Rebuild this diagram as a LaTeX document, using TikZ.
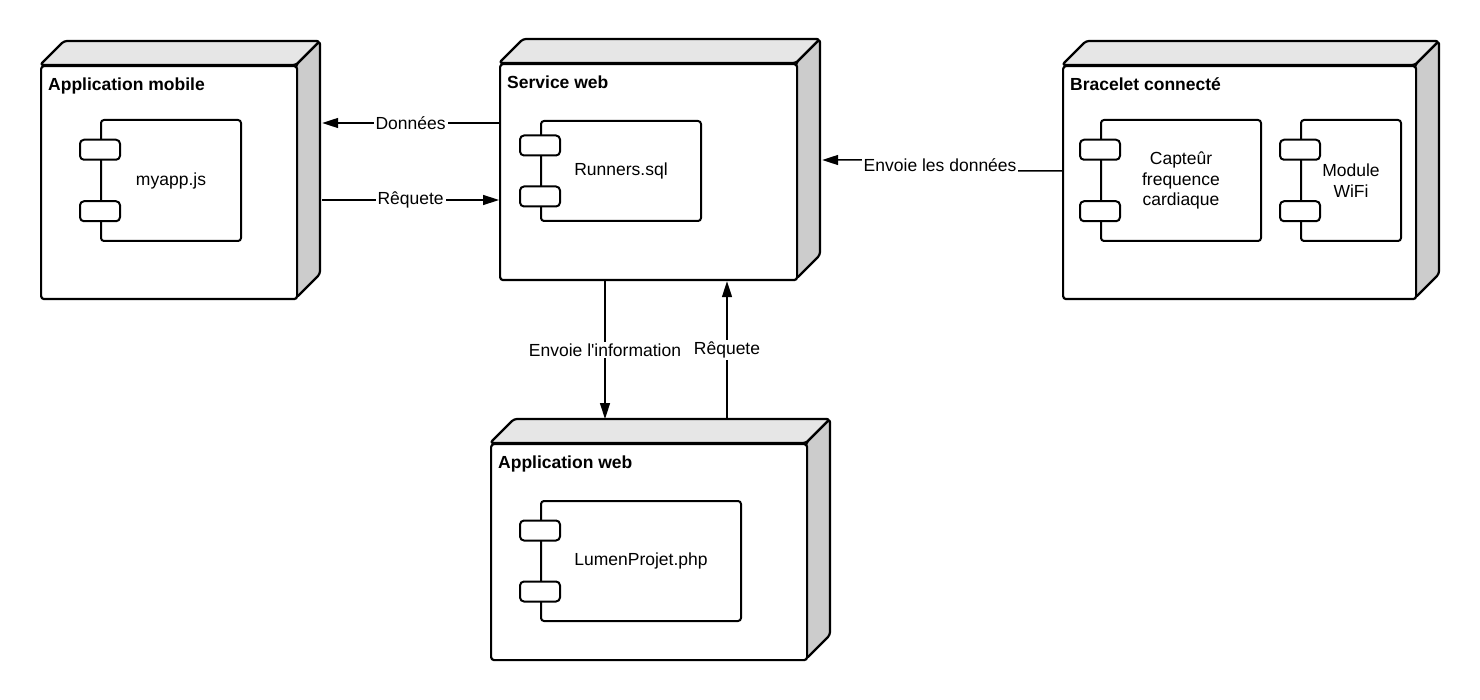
\documentclass[tikz,border=0pt]{standalone}
\usepackage{fontspec}
\newfontfamily\diagfont{Liberation Sans}
\usetikzlibrary{arrows.meta,calc}
\definecolor{topgray}{HTML}{E6E6E6}
\definecolor{sidegray}{HTML}{CCCCCC}

% name, x, y, width, height, title
\newcommand{\devicenode}[6]{%
  \draw[face, fill=topgray] (#2,#3) -- ++(24,-24) -- ++(#4,0) -- ++(-24,24) -- cycle;
  \draw[face, fill=sidegray] (#2+#4,#3) -- ++(24,-24) -- ++(0,#5) -- ++(-24,24) -- cycle;
  \node[front, minimum width=#4, minimum height=#5] (#1) at (#2,#3) {};
  \coordinate (#1 side) at ([xshift=24]#1.east);
  \coordinate (#1 top) at ([yshift=24]#1.north);
  \node[devtitle] (#1 title) at ([shift={(8,25.5)}]#1.north west) {#6};
}
% name, x, y, width, height, text
\newcommand{\compnode}[6]{%
  \node[compbox, minimum width=#4, minimum height=#5] (#1) at (#2,#3) {};
  \foreach \f/\k in {0.25/a,0.75/b}
    \node[porttab] (#1 \k) at ($(#1.north west)!\f!(#1.south west)$) {};
  \node[comptext] (#1 text) at (#1.center) {#6};
}

\begin{document}
\diagfont\fontsize{17.5}{20.5}\selectfont
\begin{tikzpicture}[x=1pt, y=-1pt,
  face/.style={draw, line width=2.2pt, rounded corners=3pt, line join=round},
  front/.style={face, fill=white, anchor=north west, inner sep=0pt},
  compbox/.style={draw, line width=2pt, rounded corners=3pt, fill=white, anchor=north west, inner sep=0pt},
  porttab/.style={draw, line width=2pt, rounded corners=4pt, fill=white, minimum width=40, minimum height=20, inner sep=0pt},
  devtitle/.style={anchor=base west, inner sep=0pt, font=\bfseries},
  comptext/.style={align=center, inner sep=0pt},
  flow/.style={line width=1.5pt, -{Triangle[length=16pt,width=10pt]}},
  edgelabel/.style={fill=white, inner xsep=2pt, inner ysep=1.5pt}]
  \useasboundingbox (0,0) rectangle (1480,700);
  \fill[white] (0,0) rectangle (1480,700);

  \devicenode{mob}{40}{65}{256}{233}{Application mobile}
  \devicenode{sw}{499}{63}{297}{216}{Service web}
  \devicenode{bc}{1062}{65}{353}{233}{Bracelet connecté}
  \devicenode{aw}{490}{443}{316}{216}{Application web}

  \compnode{myapp}{100}{119}{140}{121}{myapp.js}
  \compnode{runners}{540}{120}{160}{100}{Runners.sql}
  \compnode{capteur}{1100}{119}{160}{121}{Capteûr\\frequence\\cardiaque}
  \compnode{wifi}{1300}{119}{100}{121}{Module\\WiFi}
  \compnode{lumen}{540}{500}{200}{120}{LumenProjet.php}

  \draw[flow] (sw.west |- 0,123) -- node[edgelabel] (donnees) {Données} (mob side |- 0,123);
  \draw[flow] (mob side |- 0,200) -- node[edgelabel] (requete) {Rêquete} (sw.west |- 0,200);
  \draw[flow] (bc.west |- 0,171) -- ++(-44,0)
    -- node[edgelabel] (envdon) {Envoie les données} ($(sw side |- 0,160)+(40,0)$)
    -- (sw side |- 0,160);
  \draw[flow] (sw.south -| 605,0) -- node[edgelabel] (envinfo) {Envoie l'information} (aw top -| 605,0);
  \draw[flow] (aw top -| 727,0) -- node[edgelabel] (requete2) {Rêquete} (sw.south -| 727,0);
\end{tikzpicture}
\end{document}
